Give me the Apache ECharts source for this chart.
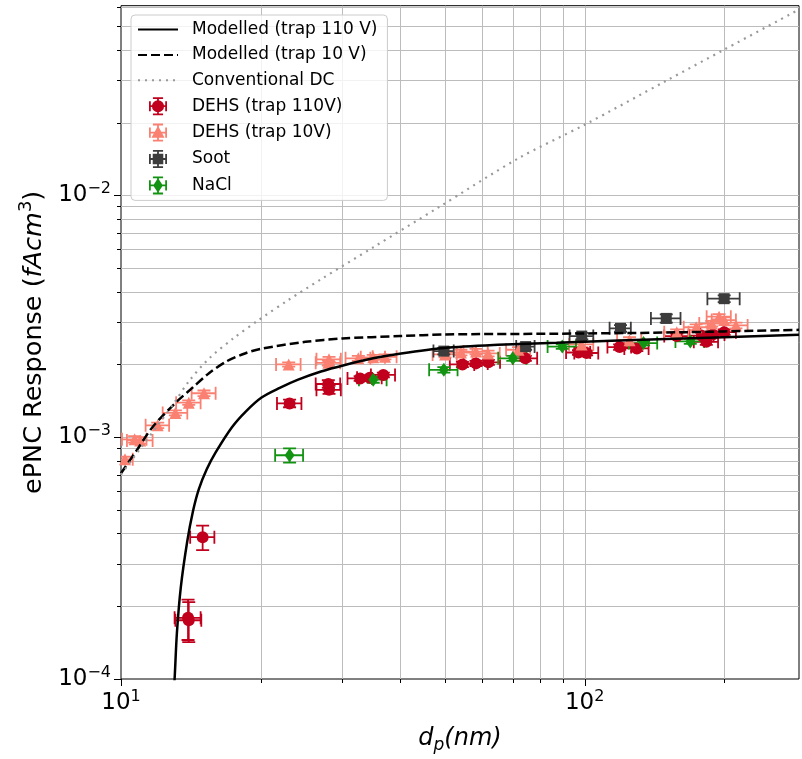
<!DOCTYPE html>
<html><head><meta charset="utf-8">
<script src="https://cdn.jsdelivr.net/npm/echarts@6/dist/echarts.min.js"></script>
<style>html,body{margin:0;padding:0;background:#fff}#c{width:802px;height:759px}</style>
</head><body><div id="c"></div>
<script>
// ---- axis ticks ----
const xMajorTicks = [10, 100];
const xMinorTicks = [20, 30, 40, 50, 60, 70, 80, 90, 200];
const yMajorTicks = [1e-4, 1e-3, 1e-2];
const yMinorTicks = [2e-4, 3e-4, 4e-4, 5e-4, 6e-4, 7e-4, 8e-4, 9e-4,
                     2e-3, 3e-3, 4e-3, 5e-3, 6e-3, 7e-3, 8e-3, 9e-3,
                     2e-2, 3e-2, 4e-2, 5e-2, 6e-2];
const xMin = 10, xMax = 290, yMin = 1e-4, yMax = 0.0609;

// ---- model curves [dp (nm), response] ----
const modelled110 = [[13.0, 9.2e-5], [13.05, 1.0e-4], [13.2, 1.55e-4], [13.46, 2.4e-4], [13.9, 3.72e-4],
  [14.3, 4.95e-4], [14.72, 6.1e-4], [15.3, 7.35e-4], [16.0, 8.65e-4], [17.35, 1.1e-3], [18.6, 1.28e-3],
  [20.1, 1.46e-3], [22, 1.6e-3], [24.1, 1.73e-3], [27, 1.87e-3], [30.4, 1.99e-3], [35, 2.12e-3],
  [40.2, 2.22e-3], [49.9, 2.34e-3], [65, 2.41e-3], [87, 2.46e-3], [150, 2.55e-3], [290, 2.65e-3]];
const modelled10 = [[10, 7.1e-4], [10.8, 8.8e-4], [11.69, 1.1e-3], [13.12, 1.39e-3], [14.25, 1.6e-3],
  [15.48, 1.84e-3], [16.9, 2.06e-3], [18.5, 2.22e-3], [20, 2.32e-3], [25, 2.48e-3], [30, 2.56e-3],
  [40, 2.62e-3], [50, 2.66e-3], [87, 2.68e-3], [150, 2.71e-3], [290, 2.78e-3]];
const conventionalDC = [[10, 7.0e-4], [11, 8.97e-4], [12, 1.12e-3], [13, 1.38e-3], [14, 1.7e-3],
  [15.5, 2.12e-3], [17.5, 2.57e-3], [19.8, 3.05e-3], [23, 3.7e-3], [27, 4.5e-3], [35, 6.1e-3],
  [48.3, 8.9e-3], [71.8, 1.42e-2], [100, 1.96e-2], [150, 2.98e-2], [200, 4.01e-2], [290, 5.87e-2]];

// ---- measurements [dp, response, dp error, response error] ----
const dehs110 = [[13.95, 1.79e-4, 0.9, 0.34e-4], [14.0, 1.75e-4, 0.9, 0.33e-4], [15.0, 3.86e-4, 0.9, 0.45e-4],
  [23.1, 1.38e-3, 1.4, 0.05e-3], [28.0, 1.66e-3, 1.7, 0.06e-3], [28.1, 1.57e-3, 1.7, 0.06e-3],
  [32.8, 1.75e-3, 2.0, 0.04e-3], [34.4, 1.76e-3, 2.1, 0.04e-3], [36.8, 1.81e-3, 2.2, 0.04e-3],
  [54.5, 2.0e-3, 3.3, 0.05e-3], [58.3, 2.02e-3, 3.5, 0.05e-3], [62.0, 2.04e-3, 3.7, 0.05e-3],
  [74.5, 2.12e-3, 4.5, 0.05e-3], [97, 2.24e-3, 5.8, 0.05e-3], [101, 2.23e-3, 6, 0.05e-3],
  [119, 2.36e-3, 7, 0.06e-3], [129.6, 2.33e-3, 7.8, 0.06e-3], [158, 2.62e-3, 9.5, 0.06e-3],
  [179, 2.63e-3, 10.7, 0.07e-3], [183, 2.48e-3, 11, 0.07e-3], [189, 2.66e-3, 11.3, 0.07e-3],
  [200, 2.72e-3, 12, 0.07e-3]];
const dehs10 = [[10.2, 8.1e-4, 0.4, 0.02e-3], [10.7, 9.8e-4, 0.65, 0.03e-3], [11.0, 9.7e-4, 0.7, 0.03e-3],
  [12.0, 1.12e-3, 0.7, 0.03e-3], [13.1, 1.26e-3, 0.8, 0.03e-3], [14.0, 1.39e-3, 0.85, 0.03e-3],
  [15.1, 1.52e-3, 0.9, 0.04e-3], [23.0, 2.0e-3, 1.4, 0.04e-3], [28.0, 2.03e-3, 1.7, 0.05e-3],
  [28.1, 2.1e-3, 1.7, 0.05e-3], [32.5, 2.12e-3, 2.0, 0.05e-3], [35.0, 2.14e-3, 2.1, 0.05e-3],
  [37.1, 2.15e-3, 2.2, 0.05e-3], [50, 2.2e-3, 3, 0.06e-3], [54.1, 2.24e-3, 3.2, 0.06e-3],
  [58.3, 2.26e-3, 3.5, 0.06e-3], [61.9, 2.22e-3, 3.7, 0.06e-3], [72, 2.3e-3, 4.3, 0.06e-3],
  [98.5, 2.42e-3, 5.9, 0.06e-3], [125, 2.52e-3, 7.5, 0.07e-3], [158, 2.72e-3, 9.5, 0.07e-3],
  [174, 2.85e-3, 10.4, 0.08e-3], [188, 2.95e-3, 11.3, 0.08e-3], [195, 3.15e-3, 11.7, 0.08e-3],
  [200, 3.05e-3, 12, 0.08e-3], [212, 2.9e-3, 12.7, 0.08e-3]];
const soot = [[49.7, 2.27e-3, 2.5, 0.07e-3], [74.6, 2.37e-3, 3.4, 0.07e-3], [98.6, 2.62e-3, 5.8, 0.08e-3],
  [119.5, 2.82e-3, 6.3, 0.09e-3], [150, 3.1e-3, 11, 0.12e-3], [200, 3.74e-3, 16, 0.12e-3]];
const nacl = [[23.1, 8.42e-4, 1.6, 0.057e-3], [35.0, 1.73e-3, 2.4, 0.05e-3], [49.7, 1.9e-3, 3.5, 0.05e-3],
  [70, 2.12e-3, 4.9, 0.05e-3], [89.5, 2.37e-3, 6.3, 0.05e-3], [134, 2.45e-3, 9.4, 0.05e-3],
  [169, 2.49e-3, 12, 0.06e-3]];

const FONT = 'DejaVu Sans';
const C110 = '#c0001c', C10 = '#fa8072', CSOOT = '#3c3c3c', CNACL = '#129412';

function powLabel(v) {
  const e = Math.log10(v), r = Math.round(e);
  if (Math.abs(e - r) > 1e-6) return '';
  return '{b|10}{s|' + (r < 0 ? '\u2212' : '') + Math.abs(r) + '}';
}
const tickRich = {
  b: {fontSize: 23, fontFamily: FONT, color: '#000', lineHeight: 29},
  s: {fontSize: 16, fontFamily: FONT, color: '#000', verticalAlign: 'top', lineHeight: 29}
};

// grid lines + ticks items: [x, y, orientation(0=vertical,1=horizontal), major]
const gridItems = [].concat(
  xMajorTicks.map(v => [v, yMin, 0, 1]),
  xMinorTicks.map(v => [v, yMin, 0, 0]),
  yMajorTicks.map(v => [xMin, v, 1, 1]),
  yMinorTicks.map(v => [xMin, v, 1, 0])
);

function gridRender(params, api) {
  const cs = params.coordSys;
  const p = api.coord([api.value(0), api.value(1)]);
  const vertical = api.value(2) === 0;
  const len = api.value(3) === 1 ? 7 : 4;
  const gs = {stroke: '#bcbcbc', lineWidth: 1};
  const ts = {stroke: '#000', lineWidth: 1};
  const ch = [];
  if (vertical) {
    const x = Math.round(p[0]) + 0.5;
    if (Math.abs(p[0] - cs.x) > 1.5) ch.push({type: 'line', shape: {x1: x, y1: cs.y, x2: x, y2: cs.y + cs.height}, style: gs});
    ch.push({type: 'line', shape: {x1: x, y1: cs.y + cs.height, x2: x, y2: cs.y + cs.height + len}, style: ts});
  } else {
    const y = Math.round(p[1]) + 0.5;
    if (Math.abs(p[1] - (cs.y + cs.height)) > 1.5) ch.push({type: 'line', shape: {x1: cs.x, y1: y, x2: cs.x + cs.width, y2: y}, style: gs});
    ch.push({type: 'line', shape: {x1: cs.x - len, y1: y, x2: cs.x, y2: y}, style: ts});
  }
  return {type: 'group', children: ch};
}

function errRender(color) {
  return function (params, api) {
    const x = api.value(0), y = api.value(1), ex = api.value(2), ey = api.value(3);
    const c = api.coord([x, y]);
    const l = api.coord([x - ex, y]), r = api.coord([x + ex, y]);
    const t = api.coord([x, y + ey]), b = api.coord([x, y - ey]);
    const cap = 6.5;
    const st = {stroke: color, lineWidth: 1.8};
    return {type: 'group', children: [
      {type: 'line', shape: {x1: l[0], y1: c[1], x2: r[0], y2: c[1]}, style: st},
      {type: 'line', shape: {x1: c[0], y1: t[1], x2: c[0], y2: b[1]}, style: st},
      {type: 'line', shape: {x1: l[0], y1: c[1] - cap, x2: l[0], y2: c[1] + cap}, style: st},
      {type: 'line', shape: {x1: r[0], y1: c[1] - cap, x2: r[0], y2: c[1] + cap}, style: st},
      {type: 'line', shape: {x1: c[0] - cap, y1: t[1], x2: c[0] + cap, y2: t[1]}, style: st},
      {type: 'line', shape: {x1: c[0] - cap, y1: b[1], x2: c[0] + cap, y2: b[1]}, style: st}
    ]};
  };
}

const barsPath = 'M2 9.2H18V10.8H2Z M9.2 2H10.8V18H9.2Z M2 5.5H3.6V14.5H2Z M16.4 5.5H18V14.5H16.4Z M5.5 2H14.5V3.6H5.5Z M5.5 16.4H14.5V18H5.5Z ';
const iconCircle = 'path://' + barsPath + 'M4.6 10A5.4 5.4 0 1 1 15.4 10A5.4 5.4 0 1 1 4.6 10Z';
const iconTri = 'path://' + barsPath + 'M10 4L15.8 14.6H4.2Z';
const iconSq = 'path://' + barsPath + 'M5.3 5.3H14.7V14.7H5.3Z';
const iconDia = 'path://' + barsPath + 'M10 3.4L14.3 10L10 16.6L5.7 10Z';

function errSeries(name, data, color) {
  return {name: name + ' err', type: 'custom', data: data, renderItem: errRender(color),
    encode: {x: 0, y: 1}, clip: true, z: 2, silent: true, itemStyle: {color: color}};
}
function ptSeries(name, data, color, symbol, size) {
  return {name: name, type: 'scatter', data: data.map(d => [d[0], d[1]]), symbol: symbol, symbolSize: size,
    itemStyle: {color: color, opacity: 1}, z: 2, silent: true, clip: true};
}
function lineSeries(name, data, style) {
  return {name: name, type: 'line', data: data, showSymbol: false, symbol: 'none', smooth: 0.3,
    z: 3, silent: true, clip: true, lineStyle: style, itemStyle: {color: style.color}};
}
const noSym = {color: 'rgba(0,0,0,0)', borderColor: 'rgba(0,0,0,0)', borderWidth: 0};

const chart = echarts.init(document.getElementById('c'), null, {renderer: 'canvas'});
chart.setOption({
  animation: false,
  backgroundColor: '#fff',
  textStyle: {fontFamily: FONT},
  grid: {left: 121, right: 0, top: 5.7, bottom: 72.5, show: true, borderColor: '#000', borderWidth: 1,
         backgroundColor: 'transparent'},
  xAxis: {
    type: 'log', logBase: 10, min: xMin, max: xMax, interval: 1,
    axisLine: {show: false}, axisTick: {show: false}, splitLine: {show: false},
    axisLabel: {formatter: powLabel, rich: tickRich, margin: 10},
    name: '{i|d}{sub|p}{i|(nm)}', nameLocation: 'middle', nameGap: 45,
    nameTextStyle: {rich: {
      i: {fontSize: 24, fontStyle: 'italic', fontFamily: FONT, color: '#000', lineHeight: 30},
      sub: {fontSize: 17, fontStyle: 'italic', fontFamily: FONT, color: '#000', verticalAlign: 'bottom', lineHeight: 30}
    }}
  },
  yAxis: {
    type: 'log', logBase: 10, min: yMin, max: yMax, interval: 1,
    axisLine: {show: false}, axisTick: {show: false}, splitLine: {show: false},
    axisLabel: {formatter: powLabel, rich: tickRich, margin: 10},
    name: '{n|ePNC Response (}{i|fAcm}{s|3}{n|)}', nameLocation: 'middle', nameGap: 70,
    nameTextStyle: {rich: {
      n: {fontSize: 25.5, fontFamily: FONT, color: '#000', lineHeight: 33},
      i: {fontSize: 25.5, fontStyle: 'italic', fontFamily: FONT, color: '#000', lineHeight: 33},
      s: {fontSize: 18, fontFamily: FONT, color: '#000', verticalAlign: 'top', lineHeight: 33}
    }}
  },
  legend: {
    orient: 'vertical', left: 131, top: 15, itemWidth: 40, itemHeight: 18, itemGap: 8.4,
    padding: [6, 10, 6, 6], backgroundColor: 'rgba(255,255,255,0.8)', borderColor: '#cccccc',
    borderWidth: 1, borderRadius: 4, selectedMode: false,
    textStyle: {fontSize: 17, fontFamily: FONT, color: '#000', padding: [0, 0, 0, 9]},
    data: [
      {name: 'Modelled (trap 110 V)', itemStyle: noSym},
      {name: 'Modelled (trap 10 V)', itemStyle: noSym},
      {name: 'Conventional DC', itemStyle: noSym},
      {name: 'DEHS (trap 110V)', icon: iconCircle}, {name: 'DEHS (trap 10V)', icon: iconTri},
      {name: 'Soot', icon: iconSq}, {name: 'NaCl', icon: iconDia}
    ]
  },
  series: [
    {name: 'grid', type: 'custom', data: gridItems, renderItem: gridRender, encode: {x: 0, y: 1},
     z: 1, silent: true, clip: false},
    errSeries('DEHS (trap 110V)', dehs110, C110), ptSeries('DEHS (trap 110V)', dehs110, C110, 'circle', 12),
    errSeries('DEHS (trap 10V)', dehs10, C10), ptSeries('DEHS (trap 10V)', dehs10, C10, 'triangle', 12),
    errSeries('Soot', soot, CSOOT), ptSeries('Soot', soot, CSOOT, 'rect', 11),
    errSeries('NaCl', nacl, CNACL), ptSeries('NaCl', nacl, CNACL, 'diamond', [10, 14]),
    lineSeries('Modelled (trap 110 V)', modelled110, {color: '#000', width: 2.5, type: 'solid'}),
    lineSeries('Modelled (trap 10 V)', modelled10, {color: '#000', width: 2.5, type: [9, 4]}),
    lineSeries('Conventional DC', conventionalDC, {color: '#999999', width: 2.2, type: [2, 5]})
  ]
});
</script>
</body></html>
